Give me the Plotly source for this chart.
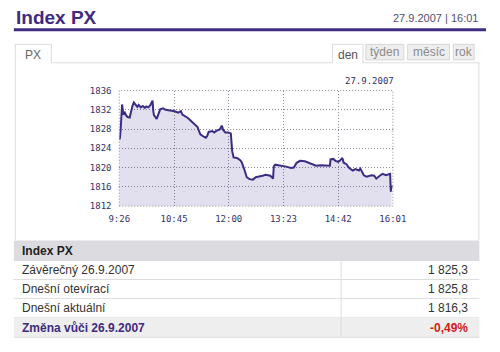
import plotly.graph_objects as go
from datetime import datetime

W, H = 500, 352

times = ["9:26", "9:27", "9:28", "9:30", "9:32", "9:34", "9:36", "9:38", "9:41", "9:43",
         "9:45", "9:47", "9:50", "9:52", "9:54", "9:57", "10:00", "10:03", "10:05", "10:08",
         "10:11", "10:14", "10:15", "10:16", "10:20", "10:22", "10:25", "10:29", "10:33", "10:37",
         "10:42", "10:46", "10:51", "10:55", "10:57", "11:02", "11:05", "11:10", "11:14", "11:19",
         "11:21", "11:23", "11:28", "11:31", "11:33", "11:35", "11:40", "11:43", "11:47", "11:51",
         "11:54", "11:56", "11:59", "12:03", "12:07", "12:09", "12:11", "12:16", "12:21", "12:23",
         "12:27", "12:30", "12:34", "12:39", "12:43", "12:49", "12:53", "12:57", "13:01", "13:04",
         "13:08", "13:09", "13:11", "13:16", "13:22", "13:27", "13:34", "13:38", "13:42", "13:47",
         "13:54", "13:59", "14:04", "14:10", "14:16", "14:23", "14:30", "14:31", "14:35", "14:38",
         "14:42", "14:45", "14:48", "14:50", "14:54", "14:58", "15:03", "15:07", "15:12", "15:14",
         "15:19", "15:23", "15:30", "15:34", "15:37", "15:42", "15:46", "15:51", "15:55", "15:57",
         "15:58", "15:59"]
values = [1825.8, 1826.3, 1828.0, 1833.1, 1831.0, 1831.4, 1830.8, 1830.5, 1830.4, 1831.8,
          1832.8, 1833.5, 1833.0, 1832.6, 1833.0, 1832.5, 1832.8, 1832.4, 1832.7, 1832.5,
          1833.0, 1833.9, 1831.8, 1830.9, 1830.1, 1830.8, 1832.1, 1832.3, 1832.0, 1831.9,
          1831.8, 1831.7, 1831.4, 1831.7, 1831.0, 1830.5, 1830.3, 1829.6, 1829.1, 1828.4,
          1827.6, 1826.9, 1826.4, 1826.2, 1826.6, 1827.4, 1827.6, 1827.3, 1827.7, 1827.9,
          1828.7, 1827.8, 1827.3, 1827.3, 1827.1, 1823.4, 1822.1, 1822.0, 1821.5, 1821.0,
          1819.4, 1818.0, 1817.6, 1817.5, 1818.0, 1818.1, 1818.3, 1818.5, 1818.4, 1818.3,
          1817.7, 1820.2, 1820.6, 1820.5, 1820.3, 1820.2, 1819.9, 1820.0, 1821.0, 1821.4,
          1821.3, 1821.0, 1820.7, 1820.4, 1820.5, 1820.4, 1820.4, 1821.7, 1821.8, 1821.4,
          1821.2, 1821.5, 1822.0, 1821.0, 1820.7, 1819.9, 1819.4, 1819.7, 1819.4, 1819.8,
          1818.4, 1818.1, 1818.4, 1818.3, 1817.7, 1818.3, 1818.7, 1818.4, 1818.6, 1818.7,
          1815.0, 1816.3]

tick_times = ["9:26", "10:45", "12:04", "13:23", "14:42", "16:01"]
tick_labels = ["9:26", "10:45", "12:00", "13:23", "14:42", "16:01"]
y_ticks = [1812, 1816, 1820, 1824, 1828, 1832, 1836]

title = "Index PX"
stamp = "27.9.2007 | 16:01"
chart_date = "27.9.2007"
tabs = ["den", "týden", "měsíc", "rok"]
row_labels = ["Závěrečný 26.9.2007", "Dnešní otevírací", "Dnešní aktuální", "Změna vůči 26.9.2007"]
row_values = ["1 825,3", "1 825,8", "1 816,3", "-0,49%"]


def t(s):
    h, m = s.split(":")
    return datetime(2007, 9, 27, int(h), int(m))


def X(px):
    return px / W


def Y(py):
    return 1 - py / H


PURPLE = "#3d2c80"
SANS = "Arial, Liberation Sans, sans-serif"
MONO = "DejaVu Sans Mono, monospace"
GRID = "#8a8a99"
DOT = "1px,2px"

fig = go.Figure()
fig.add_trace(go.Scatter(
    x=[t(s) for s in times], y=values, mode="lines",
    line=dict(color="#3b2d84", width=2),
    fill="tozeroy", fillcolor="rgba(60,40,140,0.15)",
    hoverinfo="skip", showlegend=False,
))

fig.update_layout(
    width=W, height=H, margin=dict(l=0, r=0, t=0, b=0),
    paper_bgcolor="white", plot_bgcolor="white",
    xaxis=dict(
        domain=[X(114), X(402)], anchor="y",
        range=[t("9:26"), t("16:01")], tickvals=[t(s) for s in tick_times],
        ticktext=tick_labels, showgrid=True, gridcolor=GRID, griddash=DOT,
        gridwidth=1, zeroline=False, showline=False,
        ticks="outside", ticklen=4, tickcolor="rgba(0,0,0,0)",
        tickfont=dict(family=MONO, size=9, color="#333366"),
    ),
    yaxis=dict(
        domain=[Y(207), Y(88)], anchor="x",
        range=[1812, 1836], tickvals=y_ticks,
        showgrid=True, gridcolor=GRID, griddash=DOT, gridwidth=1,
        zeroline=False, showline=False,
        ticks="outside", ticklen=5, tickcolor="rgba(0,0,0,0)",
        tickfont=dict(family=MONO, size=9, color="#333366"),
    ),
)

shapes = []
annots = []

# dotted frame of the plot area
shapes.append(dict(type="rect", xref="x domain", yref="y domain", x0=0, x1=1, y0=0, y1=1,
                   line=dict(color=GRID, width=1, dash=DOT), fillcolor="rgba(0,0,0,0)",
                   layer="above"))


def rect(x0, y0, x1, y1, fill=None, line=None, lw=1):
    shapes.append(dict(type="rect", xref="paper", yref="paper",
                       x0=X(x0), x1=X(x1), y0=Y(y1), y1=Y(y0),
                       fillcolor=fill or "rgba(0,0,0,0)",
                       line=dict(color=line or "rgba(0,0,0,0)", width=lw if line else 0),
                       layer="below"))


def hline(x0, x1, y, color, w=1):
    shapes.append(dict(type="line", xref="paper", yref="paper",
                       x0=X(x0), x1=X(x1), y0=Y(y), y1=Y(y),
                       line=dict(color=color, width=w), layer="below"))


def vline(x, y0, y1, color, w=1):
    shapes.append(dict(type="line", xref="paper", yref="paper",
                       x0=X(x), x1=X(x), y0=Y(y0), y1=Y(y1),
                       line=dict(color=color, width=w), layer="below"))


def text(s, x, y, size=12, color="#333", anchor="left", bold=False, family=SANS):
    annots.append(dict(text=f"<b>{s}</b>" if bold else s, x=X(x), y=Y(y),
                       xref="paper", yref="paper", xanchor=anchor, yanchor="middle",
                       showarrow=False, font=dict(family=family, size=size, color=color)))


# header
text(title, 3, 13, size=19, color=PURPLE, bold=True)
text(stamp, 494, 13, size=11, color="#4f4f72", anchor="right")
hline(3, 500, 25.5, PURPLE, 3)

# panel and tabs
BORDER = "#dcdcdc"
hline(42, 338, 59.5, BORDER)
hline(370, 493, 59.5, BORDER)
vline(4.5, 40, 242, BORDER)
vline(492.5, 59, 242, BORDER)
hline(4, 42, 40.5, BORDER)
vline(42.5, 40, 59.5, BORDER)
text("PX", 23, 51, size=12, color="#666666", anchor="center")

hline(338, 370, 40.5, BORDER)
vline(338.5, 40, 59.5, BORDER)
vline(370.5, 40, 59.5, BORDER)
text(tabs[0], 354.5, 51, size=12, color="#555555", anchor="center")
tab_boxes = [(373, 414), (417, 462), (465, 488)]
for (a, b), lab in zip(tab_boxes, tabs[1:]):
    rect(a + 0.5, 40.5, b - 0.5, 56.5, fill="#eeeeee", line="#d6d6d6")
    text(lab, (a + b) / 2, 48.5, size=12, color="#8a8a8a", anchor="center")

text(chart_date, 405, 78, size=9, color="#333366", anchor="right", family=MONO)

# table
rect(3, 242.5, 493, 263.5, fill="#dcdce0")
text(title, 9, 253, size=12, color="#222222", bold=True)
row_bounds = [(263.5, 282.5), (282.5, 302), (302, 322), (322, 342)]
for i, ((a, b), lab, val) in enumerate(zip(row_bounds, row_labels, row_values)):
    if i == 3:
        rect(3, a, 493, b, fill="#eeeeee")
    hline(3, 493, b, "#dddddd")
    vline(347.5, a, b, "#dddddd")
    c = (a + b) / 2
    if i == 3:
        text(lab, 9, c, size=12, color=PURPLE, bold=True)
        text(val, 483, c, size=12, color="#d21a1a", anchor="right", bold=True)
    else:
        text(lab, 9, c, size=12, color="#333333")
        text(val, 483, c, size=12, color="#333333", anchor="right")

fig.update_layout(shapes=shapes, annotations=annots)
fig.write_html("out.html")
